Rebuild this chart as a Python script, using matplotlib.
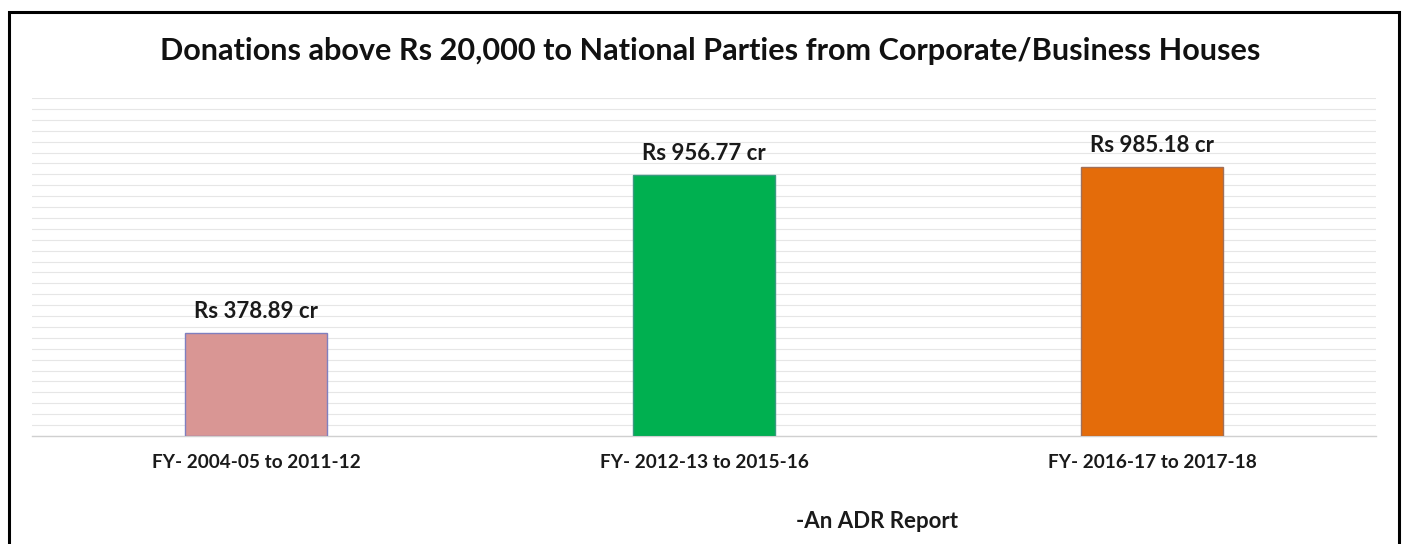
import matplotlib
matplotlib.use("Agg")
import matplotlib.pyplot as plt
import numpy as np
from matplotlib.patches import Rectangle

plt.rcParams['font.family'] = ['Lato', 'DejaVu Sans']

categories = ["FY- 2004-05 to 2011-12", "FY- 2012-13 to 2015-16", "FY- 2016-17 to 2017-18"]
values = [378.89, 956.77, 985.18]
value_labels = ["Rs 378.89 cr", "Rs 956.77 cr", "Rs 985.18 cr"]
title = "Donations above Rs 20,000 to National Parties from Corporate/Business Houses"
source = "-An ADR Report"

colors = ["#D99694", "#00B050", "#E46C0A"]
edges = ["#7F7FBF", "#3A9A80", "#A0705A"]

W, H = 1403, 544
fig = plt.figure(figsize=(W / 100, H / 100), dpi=100)
fig.patch.set_facecolor("white")

def fx(px):
    return px / W

def fy(py):
    return 1 - py / H

ax = fig.add_axes([fx(32), fy(436), fx(1376) - fx(32), fy(98) - fy(436)])
x = np.arange(len(categories))
ax.set_xlim(-0.5, len(categories) - 0.5)
ax.set_ylim(0, 1240)
ax.set_yticks(np.arange(0, 1241, 40))
ax.yaxis.grid(True, color="#E6E6E6", linewidth=0.8)
ax.set_axisbelow(True)
ax.tick_params(axis="y", length=0, labelleft=False)
ax.tick_params(axis="x", length=0, pad=13)
for s in ["top", "right", "left"]:
    ax.spines[s].set_visible(False)
ax.spines["bottom"].set_color("#D0D0D0")
ax.spines["bottom"].set_linewidth(1.0)

bars = ax.bar(x, values, width=0.315, color=colors, edgecolor=edges, linewidth=1.0, zorder=3)
for xi, v, lab in zip(x, values, value_labels):
    ax.annotate(lab, (xi, v), xytext=(0, 8), textcoords="offset points",
                ha="center", va="bottom", fontsize=16, fontweight="bold", color="#1A1A1A")

ax.set_xticks(x)
ax.set_xticklabels(categories, fontsize=13.7, fontweight="bold", color="#1A1A1A")

fig.text(fx(710), fy(51), title, ha="center", va="center", fontsize=22.1, fontweight="bold", color="#111111")
fig.text(fx(877), fy(521), source, ha="center", va="center", fontsize=16, fontweight="bold", color="#1A1A1A")

frame = Rectangle((fx(9), -0.05), fx(1399) - fx(9), fy(12) + 0.05, transform=fig.transFigure,
                  fill=False, edgecolor="black", linewidth=2.2, zorder=10)
fig.patches.append(frame)

fig.savefig("out.png", dpi=100, facecolor="white")
